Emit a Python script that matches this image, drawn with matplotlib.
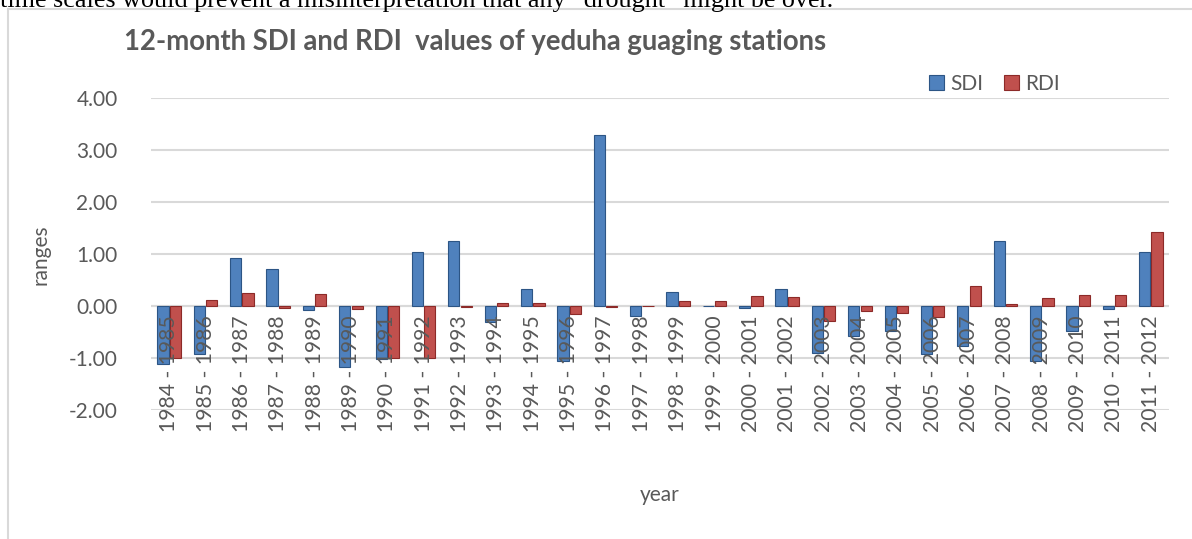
import numpy as np
import matplotlib.pyplot as plt
from matplotlib.patches import Rectangle

start_years = list(range(1984, 2012))
labels = ["%d - %d" % (y, y + 1) for y in start_years]

sdi = [-1.12, -0.92, 0.93, 0.71, -0.07, -1.18, -1.01, 1.03, 1.25, -0.31,
       0.33, -1.05, 3.28, -0.20, 0.26, 0.0, -0.04, 0.32, -0.90, -0.58,
       -0.48, -0.92, -0.77, 1.25, -1.05, -0.48, -0.06, 1.04]
rdi = [-1.00, 0.12, 0.25, -0.03, 0.23, -0.06, -1.00, -1.00, -0.02, 0.06,
       0.05, -0.15, -0.02, 0.0, 0.10, 0.10, 0.19, 0.17, -0.29, -0.09,
       -0.14, -0.22, 0.39, 0.04, 0.16, 0.22, 0.22, 1.42]

W, H = 1192, 539
fig = plt.figure(figsize=(W / 100, H / 100), dpi=100)
plt.rcParams['font.family'] = ['Lato', 'DejaVu Sans']
gray = '#595959'

# frame of the embedded chart
fig.patches.append(Rectangle((8 / W, -0.1), 1.2, 1 - 9 / H + 0.1, transform=fig.transFigure,
                             fill=False, edgecolor='#d9d9d9', lw=1.5))

# clipped line of document text above the chart (cut in the original too)
fig.text(0.0, 1 - 7 / H, 'time scales would prevent a misinterpretation that any \u201cdrought\u201d might be over.',
         family=['Liberation Serif'], fontsize=18.8, color='black', va='baseline', ha='left')

ax = fig.add_axes([151 / W, 1 - 410 / H, (1169 - 151) / W, (410 - 98) / H])
x = np.arange(len(labels))
bw = 0.31
ax.bar(x - 0.17, sdi, bw, color='#4f81bd', edgecolor='#2c5585', lw=0.8, label='SDI', zorder=3)
ax.bar(x + 0.17, rdi, bw, color='#c0504d', edgecolor='#8c2a28', lw=0.8, label='RDI', zorder=3)

ax.set_ylim(-2, 4)
ax.set_xlim(-0.5, len(labels) - 0.5)
ax.set_yticks(np.arange(-2, 5, 1))
ax.set_yticklabels(['%.2f' % v for v in np.arange(-2, 5, 1)], fontsize=15, color=gray)
ax.grid(axis='y', color='#d9d9d9', lw=1.5, zorder=0)
ax.axhline(0, color='#d9d9d9', lw=1.5, zorder=1)
ax.set_xticks([])
for s in ax.spines.values():
    s.set_visible(False)
ax.tick_params(axis='y', length=0, pad=24)

for xi, lab in zip(x, labels):
    ax.annotate(lab, (xi, 0), xytext=(0, -7), textcoords='offset points',
                rotation=90, ha='center', va='top', fontsize=15.2, color=gray, zorder=4)

fig.text(40 / W, 1 - 255 / H, 'ranges', rotation=90, ha='center', va='center', fontsize=15, color=gray)
fig.text(660 / W, 1 - 495 / H, 'year', ha='center', va='center', fontsize=15, color=gray)
fig.text(475 / W, 1 - 42 / H, '12-month SDI and RDI  values of yeduha guaging stations',
         ha='center', va='center', fontsize=19.8, fontweight='bold', color=gray)

ax.legend(loc='upper left', bbox_to_anchor=((921 - 151) / (1169 - 151), 1.105), ncol=2, frameon=False,
          fontsize=15, labelcolor=gray, handlelength=0.7, handleheight=0.7, handletextpad=0.3,
          columnspacing=1.0, borderaxespad=0)

fig.savefig('out.png', dpi=100)
